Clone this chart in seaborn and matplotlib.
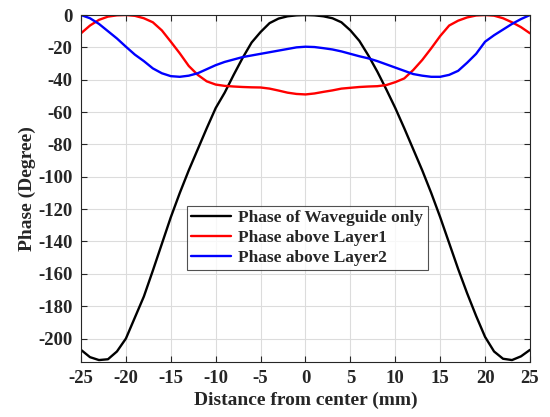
import matplotlib
matplotlib.use("Agg")
import matplotlib.pyplot as plt
import seaborn as sns
import pandas as pd
import numpy as np

distance = list(range(-25, 26))

phase_waveguide = [-207, -211.5, -213.3, -212.8, -208, -200, -187, -174, -158, -141.5,
                   -125, -110, -96, -83, -70, -57.5, -48, -37, -26.5, -17, -10.5,
                   -5, -2.2, -0.8, -0.2, 0,
                   -0.2, -0.8, -2, -4.5, -9.5, -16, -25, -35, -46, -57.5,
                   -70, -83, -96, -110, -125, -141, -157, -172, -186, -199,
                   -208, -212.5, -213.3, -211, -207]

phase_layer1 = [-11.3, -6.5, -3, -1, -0.2, 0, -0.5, -2, -4.5, -9.5,
                -16.5, -23.7, -31.5, -37, -41, -43, -43.8, -44.2, -44.5, -44.7, -44.8,
                -45.5, -46.7, -48, -48.8, -49.1,
                -48.5, -47.5, -46.6, -45.5, -45, -44.5, -44.2, -44, -43.3, -41.5,
                -39.2, -34, -27.8, -20.6, -13, -6.5, -3.5, -1.5, -0.3, 0,
                -0.4, -2, -4.5, -7.5, -11.3]

phase_layer2 = [0, -2, -5.5, -10, -14.5, -19.6, -24.5, -28.5, -33, -36,
                -37.8, -38.2, -37.5, -36, -33.5, -31, -29, -27.5, -26, -25, -24,
                -23, -22, -21, -20, -19.6,
                -19.8, -20.5, -21.3, -22.5, -24, -25.5, -26.8, -28.5, -30.5, -32.5,
                -34.5, -36.5, -37.5, -38.2, -38.2, -37, -34.5, -29.5, -24, -16.5,
                -12.5, -9, -5.5, -2.5, 0]

series_names = ["Phase of Waveguide only", "Phase above Layer1", "Phase above Layer2"]
colors = ["#000000", "#ff0000", "#0000ff"]

df = pd.concat([
    pd.DataFrame({"x": distance, "y": vals, "series": name})
    for name, vals in zip(series_names, [phase_waveguide, phase_layer1, phase_layer2])
])

sns.set_theme(style="ticks")
plt.rcParams['font.family'] = ['Liberation Serif', 'DejaVu Serif']
plt.rcParams['font.weight'] = 'bold'
plt.rcParams['axes.unicode_minus'] = False

fig = plt.figure(figsize=(5.5, 4.17), dpi=100)
ax = fig.add_axes([0.1473, 0.1319, 0.8163, 0.8321])

sns.lineplot(data=df, x="x", y="y", hue="series", hue_order=series_names,
             palette=colors, linewidth=1.7, ax=ax, legend=True)

ax.set_xlim(-25, 25)
ax.set_ylim(-214.5, 0)
ax.set_xticks(np.arange(-25, 26, 5))
ax.set_yticks(np.arange(-200, 1, 20))
ax.grid(True, color="#dcdcdc", linewidth=0.8)
ax.set_axisbelow(True)
for s in ax.spines.values():
    s.set_color("#262626")
    s.set_linewidth(0.8)
ax.tick_params(direction="in", top=True, right=True, length=4, width=0.8,
               color="#262626", labelsize=13.5, pad=6)
for lab in ax.get_xticklabels() + ax.get_yticklabels():
    lab.set_fontweight("bold")
    lab.set_color("#262626")

ax.set_xlabel("Distance from center (mm)", fontsize=14, fontweight="bold", labelpad=3)
ax.set_ylabel("Phase (Degree)", fontsize=14, fontweight="bold", labelpad=2)

leg = ax.legend(loc="upper left", bbox_to_anchor=(0.236, 0.4496), frameon=True,
                fancybox=False, edgecolor="#262626",
                handlelength=2.3, borderpad=0.25, labelspacing=0.2, handletextpad=0.4,
                borderaxespad=0.0,
                prop={"weight": "bold", "size": 12.5})
leg.get_frame().set_linewidth(0.8)

fig.savefig("out.png", dpi=100)
